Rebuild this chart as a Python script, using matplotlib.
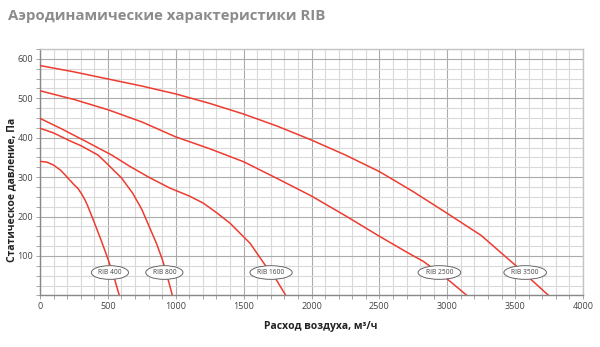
import matplotlib.pyplot as plt
from matplotlib.ticker import MultipleLocator

plt.rcParams['font.family'] = ['Open Sans', 'DejaVu Sans']

# кривые вентиляторов: расход (м3/ч) и статическое давление (Па)
rib400_x = [0, 50, 98, 150, 197, 250, 280, 307, 330, 350, 393, 450, 503, 545, 584]
rib400_y = [340, 338, 331, 318, 301, 281, 271, 257, 243, 228, 191, 140, 90, 46, 0]

rib800_x = [0, 100, 220, 300, 427, 500, 600, 683, 750, 805, 860, 902, 940, 975]
rib800_y = [424, 412, 392, 380, 356, 332, 298, 259, 218, 174, 130, 90, 45, 0]

rib1600_x = [0, 150, 319, 528, 663, 800, 958, 1100, 1203, 1300, 1400, 1548, 1658, 1740, 1810]
rib1600_y = [449, 424, 394, 356, 327, 300, 272, 252, 234, 210, 183, 132, 77, 40, 0]

rib2500_x = [0, 250, 500, 750, 1000, 1250, 1500, 1750, 2000, 2250, 2500, 2700, 2825, 3009, 3144]
rib2500_y = [519, 497, 471, 440, 402, 372, 339, 296, 252, 202, 150, 110, 86, 39, 0]

rib3500_x = [0, 250, 500, 750, 1000, 1250, 1500, 1750, 2000, 2250, 2500, 2750, 3000, 3250, 3500, 3746]
rib3500_y = [583, 567, 549, 531, 511, 487, 460, 429, 394, 356, 314, 263, 208, 152, 77, 0]

labels = ['RIB 400', 'RIB 800', 'RIB 1600', 'RIB 2500', 'RIB 3500']
label_x = [515, 916, 1702, 2942, 3574]
label_y = [58, 58, 58, 58, 58]

curves = [(rib400_x, rib400_y), (rib800_x, rib800_y), (rib1600_x, rib1600_y),
          (rib2500_x, rib2500_y), (rib3500_x, rib3500_y)]

fig = plt.figure(figsize=(6, 3.47), dpi=100)
ax = fig.add_axes([0.0667, 0.1487, 0.905, 0.7101])

for cx, cy in curves:
    ax.plot(cx, cy, color='#ee3b2f', lw=1.1, zorder=3, solid_capstyle='butt')

for t, lx, ly in zip(labels, label_x, label_y):
    ax.text(lx, ly, t, fontsize=4.8, color='#444444', ha='center', va='center', zorder=5,
            bbox=dict(boxstyle='ellipse,pad=0.2', fc='white', ec='#666666', lw=0.7))

ax.set_xlim(0, 4000)
ax.set_ylim(0, 625)
ax.xaxis.set_major_locator(MultipleLocator(500))
ax.xaxis.set_minor_locator(MultipleLocator(100))
ax.yaxis.set_major_locator(MultipleLocator(100))
ax.yaxis.set_minor_locator(MultipleLocator(25))
ax.set_yticks([100, 200, 300, 400, 500, 600])

ax.grid(which='minor', color='#d9d9d9', lw=0.8)
ax.grid(which='major', color='#ababab', lw=0.8)
ax.set_axisbelow(True)

for s in ax.spines.values():
    s.set_color('#c4c4c4')
    s.set_linewidth(1.0)
ax.spines['left'].set_color('#888888')
ax.spines['bottom'].set_color('#888888')

ax.tick_params(which='both', length=3, width=0.6, color='#999999', labelsize=6.5,
               labelcolor='#444444', pad=2)

ax.set_xlabel('Расход воздуха, м³/ч', fontsize=7.5, fontweight='bold', color='#222222')
ax.xaxis.set_label_coords(0.516, -0.128)
ax.xaxis.label.set_va('center')
ax.set_ylabel('Статическое давление, Па', fontsize=7.5, fontweight='bold', color='#222222')
ax.yaxis.set_label_coords(-0.052, 0.43)
ax.yaxis.label.set_va('center')

fig.text(0.013, 0.955, 'Аэродинамические характеристики RIB', fontsize=10.8, fontweight='bold',
         color='#8c8c8c', ha='left', va='center')

fig.set_facecolor('white')
fig.savefig('out.png', dpi=100)
